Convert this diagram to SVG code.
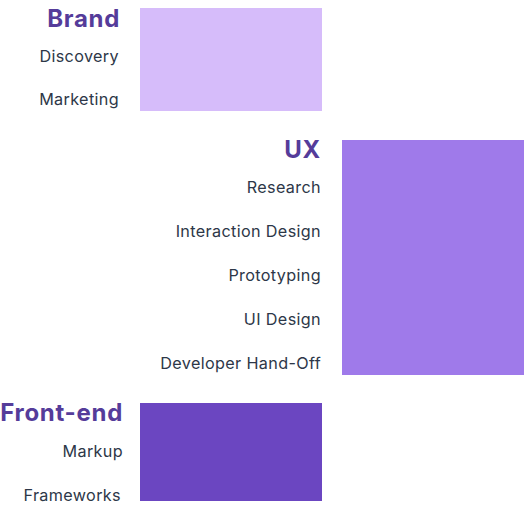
<svg xmlns="http://www.w3.org/2000/svg" width="524" height="507" viewBox="0 0 524 507">
<style>
.t{font-family:Inter,"Open Sans",sans-serif;font-weight:700;font-size:24px;letter-spacing:0.7px;fill:#553C9A;text-anchor:end}
.l{font-family:Inter,"Open Sans",sans-serif;font-size:16.2px;letter-spacing:0.35px;fill:#2D3748;text-anchor:end}
</style>
<rect width="524" height="507" fill="#ffffff"/>
<g id="brand">
<rect x="140" y="8" width="182" height="103" fill="#D6BCFA"/>
<text class="t" x="120" y="27">Brand</text>
<text class="l" x="119" y="62">Discovery</text>
<text class="l" x="119" y="105">Marketing</text>
</g>
<g id="ux">
<rect x="342" y="140" width="182" height="235" fill="#9F7AEA"/>
<text class="t" x="321" y="158">UX</text>
<text class="l" x="321" y="193">Research</text>
<text class="l" x="321" y="237">Interaction Design</text>
<text class="l" x="321" y="281">Prototyping</text>
<text class="l" x="321" y="325">UI Design</text>
<text class="l" x="321" y="369">Developer Hand-Off</text>
</g>
<g id="frontend">
<rect x="140" y="403" width="182" height="98" fill="#6B46C1"/>
<text class="t" x="123" y="421">Front-end</text>
<text class="l" x="123" y="457">Markup</text>
<text class="l" x="121" y="501">Frameworks</text>
</g>
<g id="connectors"></g>
</svg>
